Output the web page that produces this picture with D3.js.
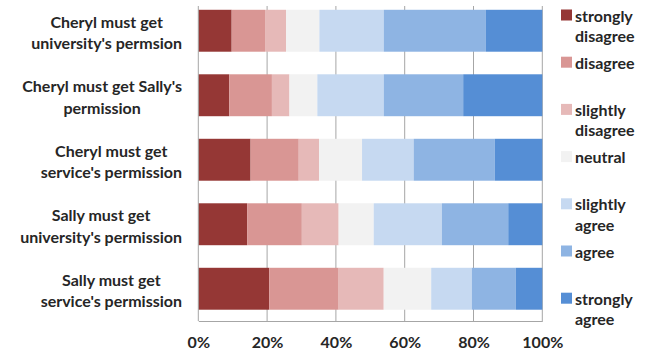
<!DOCTYPE html>
<html>
<head>
<meta charset="utf-8">
<script src="https://cdn.jsdelivr.net/npm/d3@7"></script>
<style>
  html, body { margin: 0; padding: 0; background: #fff; }
  svg { display: block; }
  text { font-family: Lato, "Open Sans", sans-serif; font-weight: 700; fill: #262626; }
</style>
</head>
<body>
<svg id="chart" width="650" height="356"></svg>
<script>
// Survey statements (one bar each, top to bottom)
const statements = [
  ["Cheryl must get", "university's permsion"],
  ["Cheryl must get Sally's", "permission"],
  ["Cheryl must get", "service's permission"],
  ["Sally must get", "university's permission"],
  ["Sally must get", "service's permission"]
];

// Response levels, in stacking order
const levels = [
  "strongly disagree", "disagree", "slightly disagree", "neutral",
  "slightly agree", "agree", "strongly agree"
];
const legendLines = [
  ["strongly", "disagree"], ["disagree"], ["slightly", "disagree"], ["neutral"],
  ["slightly", "agree"], ["agree"], ["strongly", "agree"]
];
const levelColors = ["#953735", "#D99694", "#E6B9B8", "#F2F2F2", "#C6D9F1", "#8EB4E3", "#558ED5"];

// Share of responses (%) per level, one array per level, ordered as statements
const stronglyDisagree = [9.7, 9.0, 15.2, 14.2, 20.6];
const disagree         = [9.7, 12.4, 14.0, 15.9, 20.2];
const slightlyDisagree = [6.1, 5.1, 5.9, 10.7, 13.1];
const neutral          = [9.7, 8.1, 12.5, 10.2, 13.8];
const slightlyAgree    = [18.7, 19.3, 15.0, 19.8, 11.8];
const agree            = [29.7, 23.1, 23.6, 19.3, 12.8];
const stronglyAgree    = [16.4, 23.0, 13.8, 9.9, 7.7];

const xTicks = [0, 20, 40, 60, 80, 100];

const seriesValues = [stronglyDisagree, disagree, slightlyDisagree, neutral, slightlyAgree, agree, stronglyAgree];

// Rows for d3.stack, normalised to 100%
const rows = statements.map((s, i) => {
  const row = { idx: i };
  let total = 0;
  seriesValues.forEach(v => total += v[i]);
  levels.forEach((l, k) => row[l] = seriesValues[k][i] / total * 100);
  return row;
});

const svg = d3.select("#chart");
const plot = { left: 198.3, right: 542.3, top: 6, bottom: 321 };
const fontSize = "16px";

const x = d3.scaleLinear().domain([0, 100]).range([plot.left, plot.right]);
const y = d3.scaleBand().domain(d3.range(statements.length))
  .range([-1.5, 321]).paddingInner(0.35).paddingOuter(0.175);

// Vertical gridlines
svg.append("g").selectAll("line").data(xTicks.slice(1)).join("line")
  .attr("x1", d => x(d)).attr("x2", d => x(d))
  .attr("y1", plot.top).attr("y2", plot.bottom)
  .attr("stroke", "#A6A6A6").attr("stroke-width", 1);

// Stacked bars
const stack = d3.stack().keys(levels)(rows);
svg.append("g").selectAll("g").data(stack).join("g")
  .attr("fill", (d, k) => levelColors[k])
  .selectAll("rect").data(d => d).join("rect")
  .attr("x", d => x(d[0]))
  .attr("width", d => x(d[1]) - x(d[0]))
  .attr("y", d => y(d.data.idx))
  .attr("height", y.bandwidth());

// Axes
const xAxis = d3.axisBottom(x).tickValues(xTicks).tickFormat(d => d + "%").tickSize(0).tickPadding(16);
const gx = svg.append("g").attr("transform", `translate(0,${plot.bottom})`).call(xAxis);
gx.select(".domain").attr("stroke", "#A6A6A6");
gx.selectAll("text").style("font-size", fontSize).attr("fill", "#262626");

svg.append("line")
  .attr("x1", plot.left).attr("x2", plot.left)
  .attr("y1", plot.top).attr("y2", plot.bottom)
  .attr("stroke", "#A6A6A6");

// Category labels: block right-aligned, lines centred within it
const labelRight = 182;
const lineH = 21.5;
statements.forEach((lines, i) => {
  const cy = y(i) + y.bandwidth() / 2 + 1;
  const g = svg.append("g");
  const texts = lines.map((t, j) => g.append("text")
    .attr("text-anchor", "middle")
    .attr("dominant-baseline", "central")
    .style("font-size", fontSize)
    .attr("y", cy + (j - (lines.length - 1) / 2) * lineH)
    .text(t));
  const maxW = d3.max(texts, t => t.node().getComputedTextLength());
  texts.forEach(t => t.attr("x", labelRight - maxW / 2));
});

// Legend
const legend = svg.append("g");
const legendStep = 47.2;
levels.forEach((l, k) => {
  const cy = 15 + k * legendStep;
  legend.append("rect")
    .attr("x", 561).attr("y", cy - 5.5).attr("width", 11).attr("height", 11)
    .attr("fill", levelColors[k]);
  legendLines[k].forEach((t, j) => legend.append("text")
    .attr("x", 575).attr("y", cy + j * 20.5)
    .attr("dominant-baseline", "central")
    .style("font-size", fontSize)
    .text(t));
});
</script>
</body>
</html>
